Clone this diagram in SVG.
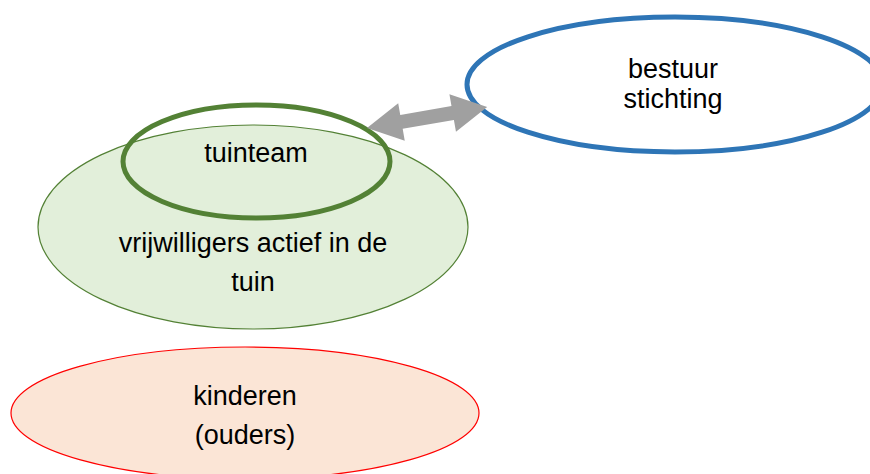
<svg xmlns="http://www.w3.org/2000/svg" width="870" height="474" viewBox="0 0 870 474">
  <style>
    text { font-family: "Liberation Sans", Arial, sans-serif; font-size: 27px; fill: #000; text-anchor: middle; }
    .green-fill { fill: #e2efda; stroke: #538135; stroke-width: 1.2; }
    .green-ring { fill: none; stroke: #538135; stroke-width: 5; }
    .blue-ring { fill: #ffffff; stroke: #2e75b6; stroke-width: 5; }
    .red-fill { fill: #fbe5d6; stroke: #ff0000; stroke-width: 1.2; }
    .arrow { fill: #a0a0a0; stroke: none; }
  </style>
  <defs>
    <clipPath id="clipBestuur">
      <rect x="0" y="0" width="870" height="117"/>
    </clipPath>
  </defs>
  <rect width="870" height="474" fill="#ffffff"/>

  <g id="bestuur">
    <ellipse class="blue-ring" cx="675" cy="84.5" rx="208" ry="67.5"/>
    <g clip-path="url(#clipBestuur)">
      <text x="673" y="78">bestuur</text>
      <text x="673" y="108">stichting</text>
    </g>
  </g>

  <g id="vrijwilligers">
    <ellipse class="green-fill" cx="253" cy="227" rx="215" ry="102"/>
    <text x="253" y="252">vrijwilligers actief in de</text>
    <text x="253" y="291">tuin</text>
  </g>

  <g id="tuinteam">
    <ellipse class="green-ring" cx="256.5" cy="161.5" rx="133.5" ry="56.5"/>
    <text x="256" y="162">tuinteam</text>
  </g>

  <g id="kinderen">
    <ellipse class="red-fill" cx="245" cy="413" rx="234" ry="66"/>
    <text x="245" y="405">kinderen</text>
    <text x="245" y="444">(ouders)</text>
  </g>

  <g id="connectors">
    <polygon class="arrow" transform="translate(367,128) rotate(-9.93)"
      points="0,0 35,-19 35,-7 87,-7 87,-19 122,0 87,19 87,7 35,7 35,19"/>
  </g>
</svg>
